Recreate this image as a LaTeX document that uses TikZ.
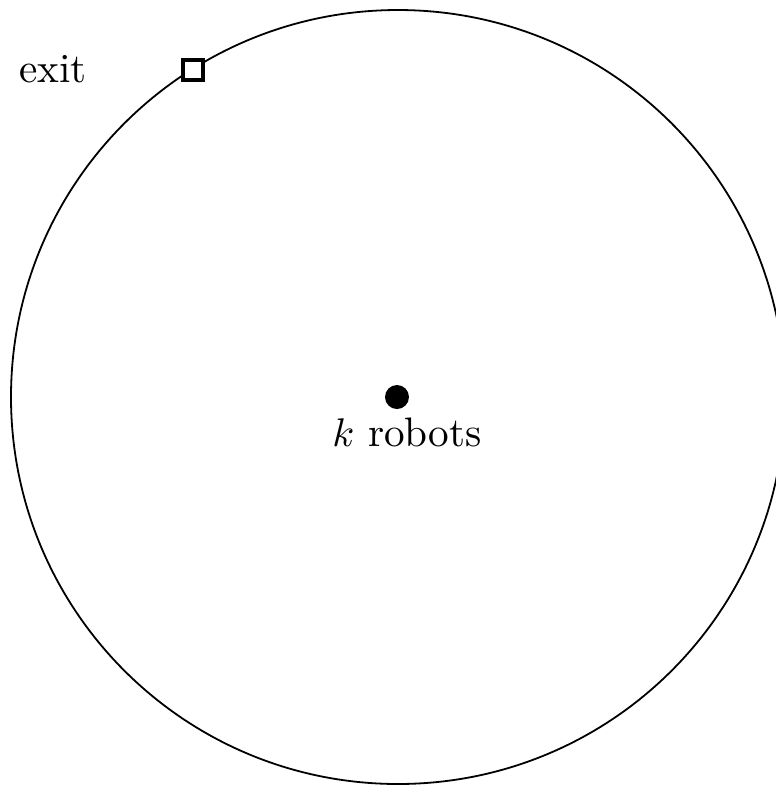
\documentclass[tikz,border=0pt]{standalone}
\usetikzlibrary{calc}
\begin{document}
\begin{tikzpicture}[x=0.25pt,y=-0.25pt,
  exitbox/.style={draw,line width=1pt,minimum size=5pt,inner sep=0pt,fill=white},
  robotdot/.style={circle,fill=black,minimum size=6pt,inner sep=0pt},
  lbl/.style={inner sep=0pt,anchor=base,font=\fontsize{10.3}{12}\selectfont}]
\useasboundingbox (0,0) rectangle (776,786);
\begin{scope}
\clip (0,0) rectangle (776,786);
\coordinate (c) at (398,397);
\draw[line width=0.45pt] (c) circle[radius=96.75pt];
\end{scope}
\node[robotdot] (r) at (397,397) {};
\node[lbl] (rl) at (407,446) {$k$ robots};
\node[exitbox] (e) at ($(c)+(122.1:96.6pt)$) {};
\node[lbl] (el) at (53,82) {exit};
\end{tikzpicture}
\end{document}
